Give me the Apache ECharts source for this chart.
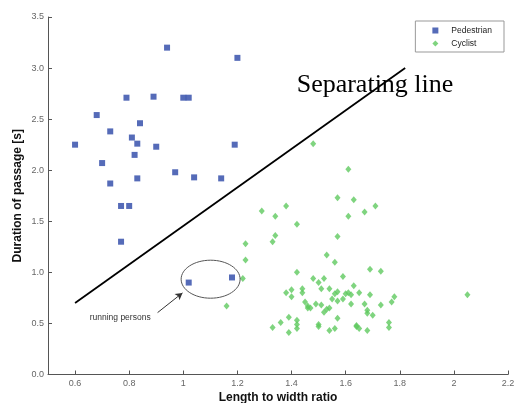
<!DOCTYPE html>
<html>
<head>
<meta charset="utf-8">
<script src="https://cdn.jsdelivr.net/npm/echarts@6/dist/echarts.min.js"></script>
<style>
  html, body { margin: 0; padding: 0; background: #fff; }
  #chart { width: 515px; height: 403px; }
</style>
</head>
<body>
<div id="chart"></div>
<script>
// tick labels
const xTicks = [0.6, 0.8, 1, 1.2, 1.4, 1.6, 1.8, 2, 2.2]

// pedestrians (length/width ratio, duration in s)
const pedestrianX = [0.94, 1.20, 0.79, 0.89, 1.00, 1.02, 0.68, 0.84, 0.73, 0.60, 0.81, 0.83, 0.90,
  1.19, 0.82, 0.70, 0.97, 1.04, 0.83, 1.14, 0.73, 0.77, 0.80, 0.77, 1.02, 1.18]
const pedestrianY = [3.20, 3.10, 2.71, 2.72, 2.71, 2.71, 2.54, 2.46, 2.38, 2.25, 2.32, 2.26, 2.23,
  2.25, 2.15, 2.07, 1.98, 1.93, 1.92, 1.92, 1.87, 1.65, 1.65, 1.30, 0.90, 0.95]

// cyclists
const cyclistX = [1.48, 1.61, 1.57, 1.63, 1.29, 1.34, 1.38, 1.42, 1.61, 1.57, 1.34, 1.33, 1.23, 1.67,
  1.71, 1.23, 1.22, 1.16, 1.53, 1.56, 1.42, 1.59, 1.48, 1.52, 1.50, 1.63, 1.69, 1.73, 1.38, 1.40,
  1.40, 1.44, 1.44, 1.51, 1.54, 1.57, 1.56, 1.60, 1.61, 1.62, 1.65, 1.55, 1.57, 1.59, 1.62, 1.45,
  1.46, 1.47, 1.46, 1.49, 1.51, 1.53, 1.52, 1.54, 1.57, 1.39, 1.36, 1.33, 1.39, 1.42, 1.42, 1.42,
  1.50, 1.50, 1.54, 1.56, 1.64, 1.69, 1.78, 1.77, 1.73, 1.67, 1.68, 1.68, 1.70, 1.76, 1.76, 1.64,
  1.65, 1.68, 2.05]
const cyclistY = [2.26, 2.01, 1.73, 1.71, 1.60, 1.55, 1.65, 1.47, 1.55, 1.35, 1.36, 1.30, 1.28, 1.59,
  1.65, 1.12, 0.94, 0.67, 1.17, 1.10, 1.00, 0.96, 0.94, 0.94, 0.90, 0.87, 1.03, 1.01, 0.80, 0.83,
  0.76, 0.84, 0.80, 0.84, 0.84, 0.81, 0.79, 0.79, 0.80, 0.78, 0.80, 0.74, 0.72, 0.74, 0.69, 0.71,
  0.67, 0.65, 0.65, 0.69, 0.68, 0.64, 0.61, 0.65, 0.55, 0.56, 0.51, 0.46, 0.41, 0.53, 0.49, 0.45,
  0.49, 0.47, 0.43, 0.45, 0.47, 0.78, 0.76, 0.71, 0.68, 0.69, 0.63, 0.60, 0.58, 0.51, 0.46, 0.48,
  0.45, 0.43, 0.78]

// separating line end points
const separatorX = [0.6, 1.82]
const separatorY = [0.7, 3.0]

// annotations, in data units
const arrowFrom = [0.905, 0.606]
const arrowTo = [0.997, 0.799]
const ellipseCenter = [1.101, 0.933]
const ellipseRadius = [0.109, 0.186]
const separatorLabelAt = [1.419, 2.835]
const runningLabelAt = [0.654, 0.557]

const zip = (xs, ys) => xs.map((x, i) => [x, ys[i]])

const chart = echarts.init(document.getElementById('chart'))

chart.setOption({
  animation: false,
  textStyle: { fontFamily: 'Liberation Sans, Arial, sans-serif' },
  grid: { left: 48, right: 7, top: 17, bottom: 28.5, outerBoundsMode: 'none' },
  legend: {
    data: ['Pedestrian', 'Cyclist'],
    orient: 'vertical',
    right: 11,
    top: 21,
    padding: [5, 12, 4, 17],
    itemGap: 4,
    itemWidth: 6,
    itemHeight: 6,
    borderColor: '#999',
    borderWidth: 1,
    textStyle: { fontSize: 8.5, color: '#222', padding: [0, 0, 0, 8] }
  },
  xAxis: {
    type: 'value',
    min: 0.5,
    max: 2.2,
    name: 'Length to width ratio',
    nameLocation: 'middle',
    nameGap: 17,
    nameMoveOverlap: false,
    nameTextStyle: { fontSize: 12, fontWeight: 'bold', color: '#111' },
    axisLine: { lineStyle: { color: '#555' } },
    axisTick: { inside: true, length: 4, customValues: xTicks, lineStyle: { color: '#555' } },
    axisLabel: { customValues: xTicks, fontSize: 9, color: '#666', margin: 5 },
    splitLine: { show: false }
  },
  yAxis: {
    type: 'value',
    min: 0,
    max: 3.5,
    interval: 0.5,
    name: 'Duration of passage [s]',
    nameLocation: 'middle',
    nameGap: 24,
    nameMoveOverlap: false,
    nameTextStyle: { fontSize: 12, fontWeight: 'bold', color: '#111' },
    axisLine: { show: true, lineStyle: { color: '#555' } },
    axisTick: { show: true, inside: true, length: 4, lineStyle: { color: '#555' } },
    axisLabel: { fontSize: 9, color: '#666', margin: 4, formatter: v => v.toFixed(1) },
    splitLine: { show: false }
  },
  series: [
    {
      name: 'Pedestrian',
      type: 'scatter',
      symbol: 'rect',
      symbolSize: 6,
      itemStyle: { color: '#2a46a6' },
      data: zip(pedestrianX, pedestrianY)
    },
    {
      name: 'Cyclist',
      type: 'scatter',
      symbol: 'diamond',
      symbolSize: [6, 7],
      itemStyle: { color: '#5fc95f' },
      data: zip(cyclistX, cyclistY)
    },
    {
      name: 'separator',
      type: 'line',
      symbol: 'none',
      silent: true,
      lineStyle: { color: '#000', width: 1.8 },
      data: zip(separatorX, separatorY),
      markLine: {
        silent: true,
        symbol: ['none', 'arrow'],
        symbolSize: [6, 7],
        label: { show: false },
        lineStyle: { color: '#333', width: 1, type: 'solid' },
        data: [[{ coord: arrowFrom }, { coord: arrowTo }]]
      }
    }
  ]
})

const toPx = p => chart.convertToPixel({ gridIndex: 0 }, p)
const c = toPx(ellipseCenter)
const edge = toPx([ellipseCenter[0] + ellipseRadius[0], ellipseCenter[1] + ellipseRadius[1]])
const sep = toPx(separatorLabelAt)
const run = toPx(runningLabelAt)

chart.setOption({
  graphic: [
    {
      type: 'ellipse',
      shape: { cx: c[0], cy: c[1], rx: edge[0] - c[0], ry: c[1] - edge[1] },
      style: { fill: 'none', stroke: '#555', lineWidth: 1 },
      z: 10
    },
    {
      type: 'text',
      x: sep[0],
      y: sep[1],
      style: {
        text: 'Separating line',
        fontSize: 26,
        fontFamily: 'Liberation Serif, Times New Roman, serif',
        fill: '#000',
        align: 'left',
        verticalAlign: 'middle'
      },
      z: 10
    },
    {
      type: 'text',
      x: run[0],
      y: run[1],
      style: {
        text: 'running persons',
        fontSize: 8.5,
        fontFamily: 'Liberation Sans, Arial, sans-serif',
        fill: '#333',
        align: 'left',
        verticalAlign: 'middle'
      },
      z: 10
    }
  ]
})
</script>
</body>
</html>
